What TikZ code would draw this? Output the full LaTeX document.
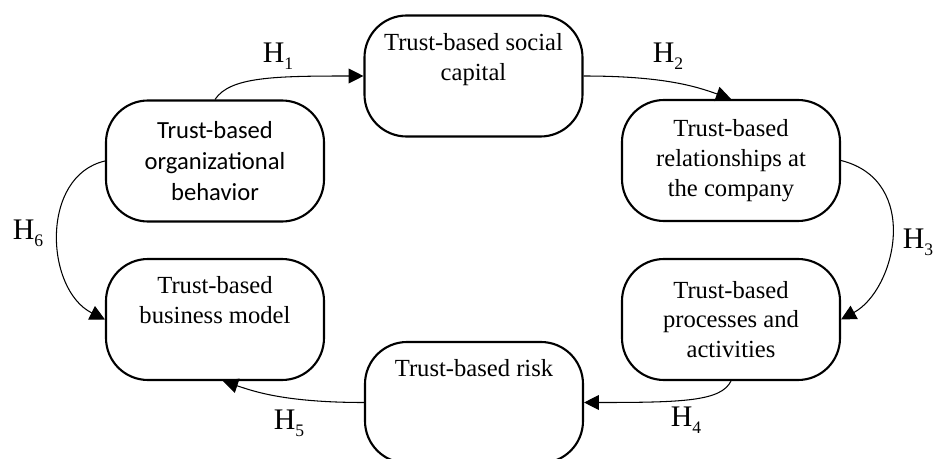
\documentclass[tikz,border=0pt]{standalone}
\usepackage{fontspec}
\setmainfont{Liberation Serif}
\newfontfamily\calibrifont{Carlito}
\usetikzlibrary{arrows.meta}
\newcommand\hsub[1]{\raisebox{-4pt}{\fontsize{10}{10}\selectfont #1}}

\begin{document}
\begin{tikzpicture}[
    trustbox/.style={draw, line width=1.2pt, rounded corners=0.84cm,
      minimum width=4.36cm, minimum height=2.42cm, align=center,
      font=\fontsize{14}{17}\selectfont},
    hyparrow/.style={-{Triangle[length=8.5pt,width=8.5pt]}, line width=0.6pt},
    hlabel/.style={font=\fontsize{17}{20}\selectfont, inner sep=0pt}]
      \useasboundingbox (0,0) rectangle (18.7,-9.18);
      % the six trust-based blocks
      \node[trustbox, font=\calibrifont\fontsize{14}{17.5}\selectfont] (orgbeh) at (4.30,-3.22) {Trust-based\\organizational\\behavior};
      \node[trustbox] (socap) at (9.47,-1.52) {Trust-based social\\capital\\\strut};
      \node[trustbox] (relat) at (14.62,-3.21) {Trust-based\\relationships at\\the company};
      \node[trustbox] (procs) at (14.62,-6.39) {Trust-based\\processes and\\activities};
      \node[trustbox] (risk) at (9.48,-8.05) {Trust-based risk\\\strut\\\strut};
      \node[trustbox] (bizmod) at (4.30,-6.39) {Trust-based\\business model\\\strut};
      % hypotheses
      \draw[hyparrow] (orgbeh.north) .. controls +(0.3,0.45) and +(-1.8,0) .. (socap.west);
      \draw[hyparrow] (socap.east) .. controls +(1.6,0) and +(-0.7,0.25) .. (relat.north);
      \draw[hyparrow] (relat.east) .. controls +(1.6,-0.4) and +(1.1,0.6) .. (procs.east);
      \draw[hyparrow] (procs.south) .. controls +(-0.2,-0.4) and +(2.0,0) .. (risk.east);
      \draw[hyparrow] (risk.west) .. controls +(-1.6,0) and +(0.6,-0.2) .. ([xshift=0.16cm]bizmod.south);
      \draw[hyparrow] (orgbeh.west) .. controls +(-1.3,-0.3) and +(-1.2,0.6) .. (bizmod.west);
      \node[hlabel] (h1) at (5.56,-1.13) {H\hsub{1}};
      \node[hlabel] (h2) at (13.36,-1.13) {H\hsub{2}};
      \node[hlabel] (h3) at (18.36,-4.84) {H\hsub{3}};
      \node[hlabel] (h4) at (13.72,-8.40) {H\hsub{4}};
      \node[hlabel] (h5) at (5.78,-8.46) {H\hsub{5}};
      \node[hlabel] (h6) at (0.56,-4.66) {H\hsub{6}};
\end{tikzpicture}
\end{document}
